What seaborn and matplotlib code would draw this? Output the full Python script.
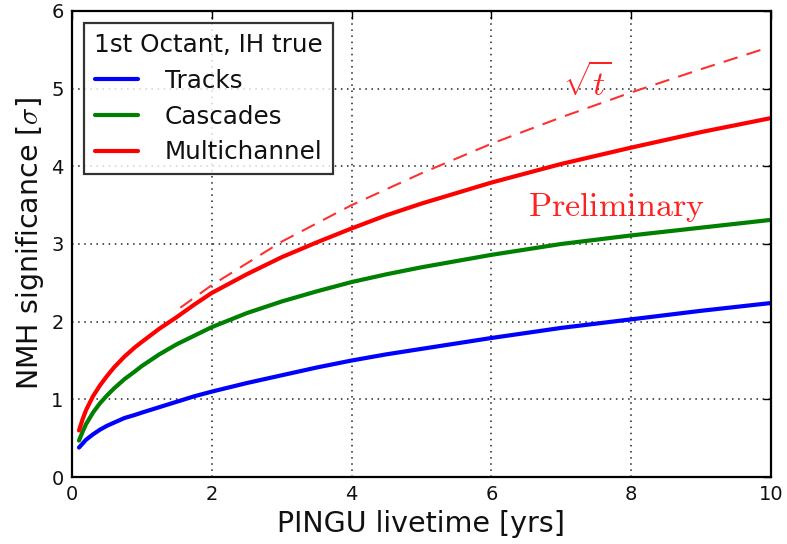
import numpy as np
import pandas as pd
import matplotlib
matplotlib.use("Agg")
import matplotlib.pyplot as plt
import seaborn as sns

# Data
t = [0.1, 0.15, 0.2, 0.3, 0.4, 0.5, 0.6, 0.75, 0.9, 1.0, 1.25, 1.5, 1.75, 2.0, 2.5,
     3.0, 3.5, 4.0, 4.5, 5.0, 6.0, 7.0, 8.0, 9.0, 10.0]
tracks = [0.38, 0.43, 0.48, 0.55, 0.61, 0.66, 0.70, 0.76, 0.80, 0.83, 0.90, 0.97, 1.04,
          1.10, 1.21, 1.31, 1.41, 1.50, 1.58, 1.65, 1.79, 1.92, 2.03, 2.14, 2.24]
cascades = [0.47, 0.58, 0.68, 0.83, 0.95, 1.05, 1.14, 1.26, 1.36, 1.43, 1.58, 1.71, 1.82,
            1.93, 2.11, 2.26, 2.39, 2.51, 2.61, 2.70, 2.86, 3.00, 3.11, 3.21, 3.31]
multichannel = [0.60, 0.74, 0.86, 1.04, 1.18, 1.30, 1.41, 1.55, 1.67, 1.74, 1.91, 2.06, 2.22,
                2.37, 2.61, 2.83, 3.02, 3.20, 3.37, 3.52, 3.79, 4.03, 4.24, 4.44, 4.62]

sqrt_t_x = [1.55, 2.0, 3.0, 4.0, 5.0, 6.0, 7.0, 8.0, 9.0, 9.9]
sqrt_t_y = [2.18, 2.47, 3.03, 3.50, 3.91, 4.29, 4.63, 4.95, 5.25, 5.51]

series_names = ["Tracks", "Cascades", "Multichannel"]
series_colors = ["#0000ff", "#008000", "#ff0000"]
legend_title = "1st Octant, IH true"

sns.set_theme(style="white")
plt.rcParams["font.family"] = ["DejaVu Sans"]
plt.rcParams["mathtext.fontset"] = "cm"

df = pd.DataFrame({
    "t": t * 3,
    "sig": tracks + cascades + multichannel,
    "series": [series_names[0]] * len(t) + [series_names[1]] * len(t) + [series_names[2]] * len(t),
})

fig = plt.figure(figsize=(7.87, 5.44), dpi=100)
ax = fig.add_axes([0.0915, 0.123, 0.888, 0.857])

sns.lineplot(data=df, x="t", y="sig", hue="series", hue_order=series_names,
             palette=series_colors, linewidth=3, ax=ax, legend=True)
sns.lineplot(x=sqrt_t_x, y=sqrt_t_y, color="#ff3030", linewidth=1.5,
             linestyle=(0, (7, 4.5)), ax=ax, legend=False)

ax.set_xlim(0, 10)
ax.set_ylim(0, 6)
ax.set_xticks([0, 2, 4, 6, 8, 10])
ax.set_yticks([0, 1, 2, 3, 4, 5, 6])
ax.grid(True, color="#222222", linestyle=(0, (1, 3)), linewidth=1.1)
ax.tick_params(axis="both", direction="in", length=6, width=1, labelsize=14,
               top=True, right=True, colors="black", pad=6)
for lab in ax.get_xticklabels() + ax.get_yticklabels():
    lab.set_color("#111111")
for s in ax.spines.values():
    s.set_color("black")
    s.set_linewidth(1.6)

ax.set_xlabel("PINGU livetime [yrs]", fontsize=20.5, color="#111111", labelpad=4)
ax.set_ylabel(r"NMH significance [$\sigma$]", fontsize=20.5, color="#111111", labelpad=4)

ax.text(7.03, 4.9, r"$\sqrt{t}$", color="#ff2020", fontsize=24)
ax.text(6.52, 3.36, r"$\mathrm{Preliminary}$", color="#ff2020", fontsize=24.5)

leg = ax.legend(title=legend_title, loc="upper left", fontsize=17.7, title_fontsize=17.7,
                frameon=True, fancybox=False, handlelength=1.75, borderaxespad=0.5,
                labelspacing=0.48, handletextpad=1.1, borderpad=0.4)
leg.get_frame().set_edgecolor("black")
leg.get_frame().set_linewidth(1.6)
for line in leg.get_lines():
    line.set_linewidth(3)
for txt in leg.get_texts():
    txt.set_color("#111111")
leg.get_title().set_color("#111111")

fig.savefig("out.png", dpi=100)
